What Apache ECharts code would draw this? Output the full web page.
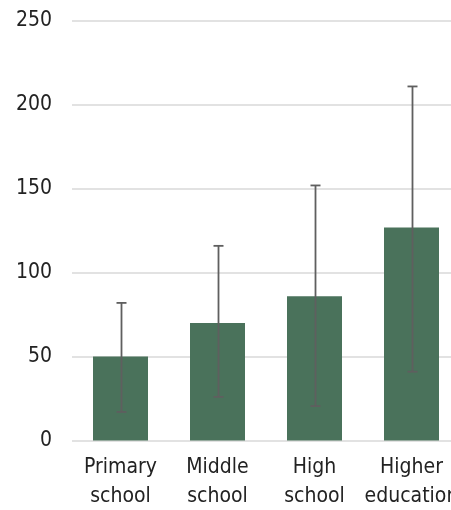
<!DOCTYPE html>
<html><head><meta charset="utf-8">
<script src="https://cdn.jsdelivr.net/npm/echarts@6/dist/echarts.min.js"></script>
<style>html,body{margin:0;padding:0;background:#fff;}#c{width:451px;height:510px;}</style>
</head><body><div id="c"></div>
<script>
const categories = ["Primary school", "Middle school", "High school", "Higher education"];
const values = [50, 70, 86, 127];
const errLow = [17, 26, 20.5, 41];
const errHigh = [82, 116, 152, 211];
const yTicks = [0, 50, 100, 150, 200, 250];

const chart = echarts.init(document.getElementById('c'), null, {renderer: 'canvas'});
const FONT = '"DejaVu Sans Condensed", "DejaVu Sans", sans-serif';
chart.setOption({
  animation: false,
  grid: {left: 72, top: 21, width: 388, bottom: 69.5, containLabel: false, outerBoundsMode: 'none'},
  xAxis: {
    type: 'category', data: categories,
    axisLine: {show: false}, axisTick: {show: false},
    axisLabel: {color: '#222', fontFamily: FONT, fontSize: 21, lineHeight: 29, margin: 13,
      interval: 0, hideOverlap: false, formatter: v => v.replace(' ', '\n')}
  },
  yAxis: {
    type: 'value', min: yTicks[0], max: yTicks[yTicks.length - 1], interval: 50,
    axisLine: {show: false}, axisTick: {show: false},
    splitLine: {lineStyle: {color: '#d9d9d9', width: 1.5}},
    axisLabel: {color: '#222', fontFamily: FONT, fontSize: 21, margin: 20, align: 'right',
      padding: [0, 0, 5, 0]}
  },
  series: [
    {type: 'bar', data: values, barWidth: 55, itemStyle: {color: '#4a725b'}, z: 2},
    {type: 'custom', z: 3,
      data: categories.map((c, i) => [i, errLow[i], errHigh[i]]),
      renderItem: function (params, api) {
        const i = api.value(0);
        const lo = api.coord([i, api.value(1)]);
        const hi = api.coord([i, api.value(2)]);
        const x = Math.round(lo[0]) + 0.5;
        const cap = 5;
        const style = {stroke: '#5f5f5f', lineWidth: 1.8, fill: null};
        return {type: 'group', children: [
          {type: 'line', shape: {x1: x, y1: hi[1], x2: x, y2: lo[1]}, style: style},
          {type: 'line', shape: {x1: x - cap, y1: hi[1], x2: x + cap, y2: hi[1]}, style: style},
          {type: 'line', shape: {x1: x - cap, y1: lo[1], x2: x + cap, y2: lo[1]}, style: style}
        ]};
      }
    }
  ]
});
</script></body></html>
